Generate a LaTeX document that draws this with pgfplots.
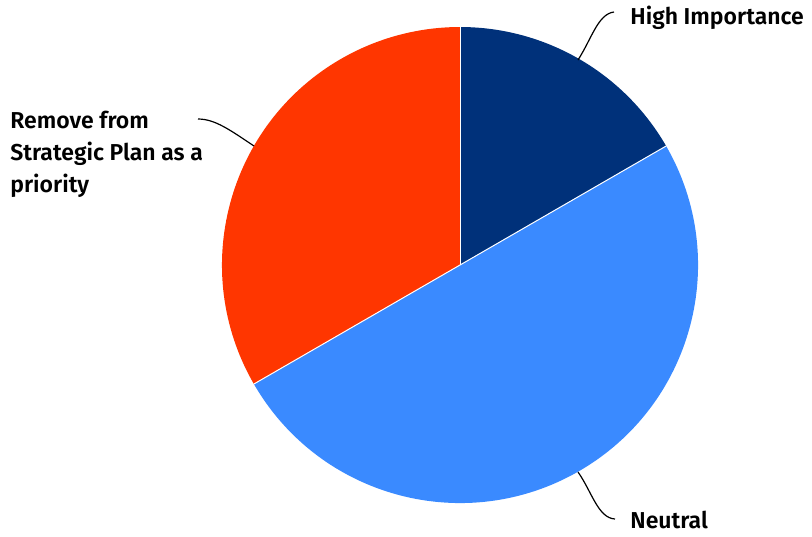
\documentclass[border=0pt]{standalone}
\usepackage{pgfplots}
\usepackage{pgfplotstable}
\pgfplotsset{compat=1.18}
\usepackage{fontspec}
\setmainfont{Fira Sans}[BoldFont={Fira Sans SemiBold}]
\definecolor{cHigh}{HTML}{00317A}
\definecolor{cNeutral}{HTML}{3A8AFF}
\definecolor{cRemove}{HTML}{FF3600}
\pgfplotstableread{
label value
High 1
Neutral 3
Remove 2
}\piedata
\pgfplotstablegetelem{0}{value}\of\piedata \let\vA\pgfplotsretval
\pgfplotstablegetelem{1}{value}\of\piedata \let\vB\pgfplotsretval
\pgfplotstablegetelem{2}{value}\of\piedata \let\vC\pgfplotsretval
\pgfmathsetmacro{\tot}{\vA+\vB+\vC}
\pgfmathsetmacro{\aA}{90}
\pgfmathsetmacro{\aB}{90-360*\vA/\tot}
\pgfmathsetmacro{\aC}{\aB-360*\vB/\tot}
\pgfmathsetmacro{\aD}{\aC-360*\vC/\tot}
\begin{document}%
\begin{tikzpicture}
\begin{axis}[
  scale only axis, width=406pt, height=266.5pt,
  xmin=0, xmax=812, ymin=0, ymax=533, y dir=reverse,
  hide axis, clip=false]
\path (axis cs:0,0) rectangle (axis cs:812,533);
\def\R{119pt}
\fill[cHigh] (axis cs:460,265) -- ++(\aA:\R) arc[start angle=\aA, end angle=\aB, radius=\R] -- cycle;
\fill[cNeutral] (axis cs:460,265) -- ++(\aB:\R) arc[start angle=\aB, end angle=\aC, radius=\R] -- cycle;
\fill[cRemove] (axis cs:460,265) -- ++(\aC:\R) arc[start angle=\aC, end angle=\aD, radius=\R] -- cycle;
\draw[white, line width=0.5pt] (axis cs:460,265) -- ++(\aA:\R);
\draw[white, line width=0.5pt] (axis cs:460,265) -- ++(\aB:\R);
\draw[white, line width=0.5pt] (axis cs:460,265) -- ++(\aC:\R);
% leader lines
\draw[black, line width=0.6pt] (axis cs:578,60) .. controls (axis cs:592,38) and (axis cs:598,14) .. (axis cs:614,12);
\draw[black, line width=0.6pt] (axis cs:578,472) .. controls (axis cs:592,492) and (axis cs:598,518) .. (axis cs:615,519);
\draw[black, line width=0.6pt] (axis cs:198,119) .. controls (axis cs:215,119) and (axis cs:230,130) .. (axis cs:254,146);
% labels
\node[anchor=base west, inner sep=0pt, font=\fontsize{11.5}{16}\selectfont\bfseries] at (axis cs:630,24) {High Importance};
\node[anchor=base west, inner sep=0pt, font=\fontsize{11.5}{16}\selectfont\bfseries] at (axis cs:630,528) {Neutral};
\node[anchor=base west, inner sep=0pt, font=\fontsize{11.5}{16}\selectfont\bfseries, align=left] at (axis cs:10,192) {Remove from\\Strategic Plan as a\\priority};
\end{axis}
\end{tikzpicture}%
\end{document}
